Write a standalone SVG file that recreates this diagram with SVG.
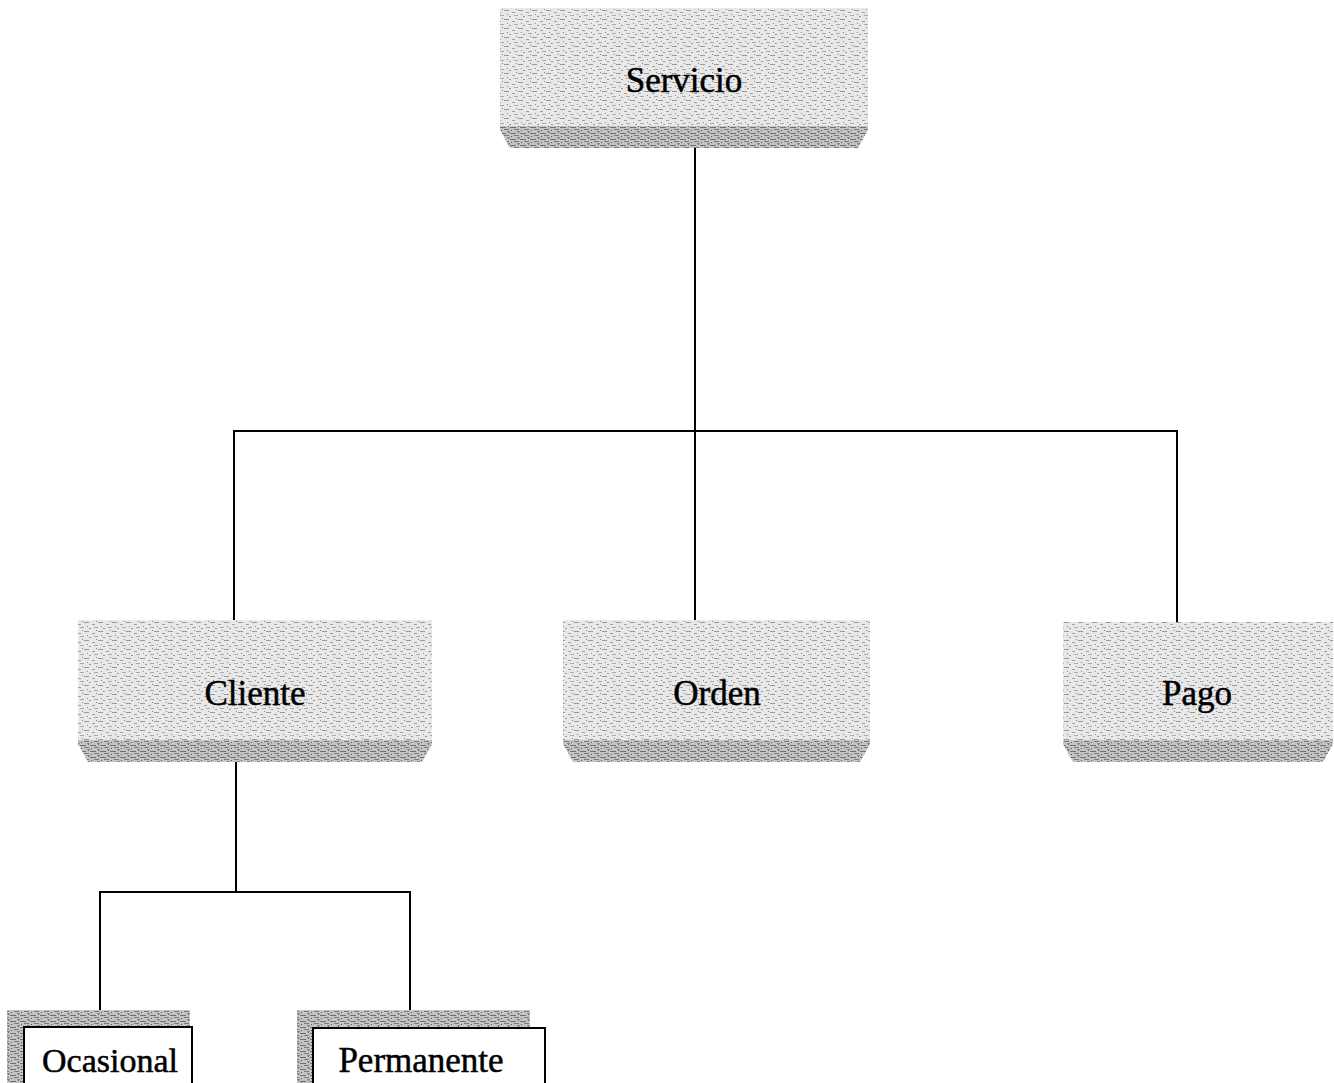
<svg xmlns="http://www.w3.org/2000/svg" width="1334" height="1083" viewBox="0 0 1334 1083">
<style>
.lbl{font-family:"Liberation Serif","Times New Roman",serif;font-size:35px;fill:#000;stroke:#000;stroke-width:0.5;text-anchor:middle}
.conn{stroke:#000;stroke-width:2;fill:none}
.body{fill:url(#tex)}
.band{fill:url(#texd)}
.card{fill:#fff;stroke:#000;stroke-width:2}
.shadow{fill:url(#texd)}
</style>
<defs>
<pattern id="tex" width="14" height="9" patternUnits="userSpaceOnUse">
<rect width="14" height="9" fill="#e8e8e8"/>
<rect x="0" y="1" width="5" height="1" fill="#9a9a9a"/>
<rect x="8" y="3" width="3" height="1" fill="#a0a0a0"/>
<rect x="3" y="5" width="1" height="1" fill="#8a8a8a"/>
<rect x="10" y="6" width="4" height="1" fill="#aaa"/>
<rect x="5" y="7" width="2" height="1" fill="#999"/>
<rect x="12" y="0" width="1" height="1" fill="#888"/>
</pattern>
<pattern id="texd" width="10" height="6" patternUnits="userSpaceOnUse">
<rect width="10" height="6" fill="#c4c4c4"/>
<rect x="0" y="1" width="6" height="1" fill="#6e6e6e"/>
<rect x="4" y="3" width="5" height="1" fill="#7a7a7a"/>
<rect x="1" y="4" width="1" height="1" fill="#555"/>
<rect x="7" y="5" width="3" height="1" fill="#888"/>
<rect x="8" y="0" width="1" height="1" fill="#666"/>
</pattern>
</defs>
<g id="connectors">
<path class="conn" d="M695,148 V431"/>
<path class="conn" d="M234,620 V431 H1177 V622"/>
<path class="conn" d="M695,431 V620"/>
<path class="conn" d="M236,762 V892"/>
<path class="conn" d="M100,1010 V892 H410 V1010"/>
</g>
<g id="servicio">
<path class="body" d="M500,8 H868 V126 H500 Z"/>
<path class="band" d="M500,126 H868 V130 L858,148 H510 L500,130 Z"/>
<text class="lbl" x="684" y="92">Servicio</text>
</g>
<g id="cliente">
<path class="body" d="M78,620 H432 V740 H78 Z"/>
<path class="band" d="M78,740 H432 V744 L422,762 H88 L78,744 Z"/>
<text class="lbl" x="255" y="705">Cliente</text>
</g>
<g id="orden">
<path class="body" d="M563,620 H870 V740 H563 Z"/>
<path class="band" d="M563,740 H870 V744 L860,762 H573 L563,744 Z"/>
<text class="lbl" x="717" y="705">Orden</text>
</g>
<g id="pago">
<path class="body" d="M1063,622 H1333 V740 H1063 Z"/>
<path class="band" d="M1063,740 H1333 V744 L1323,762 H1073 L1063,744 Z"/>
<text class="lbl" x="1197" y="705">Pago</text>
</g>
<g id="ocasional">
<rect class="shadow" x="7" y="1010" width="183" height="73"/>
<rect class="card" x="24" y="1027" width="168" height="70"/>
<text class="lbl" x="110" y="1072" style="font-size:34px">Ocasional</text>
</g>
<g id="permanente">
<rect class="shadow" x="297" y="1010" width="233" height="73"/>
<rect class="card" x="313" y="1028" width="232" height="70"/>
<text class="lbl" x="421" y="1072">Permanente</text>
</g>
</svg>
